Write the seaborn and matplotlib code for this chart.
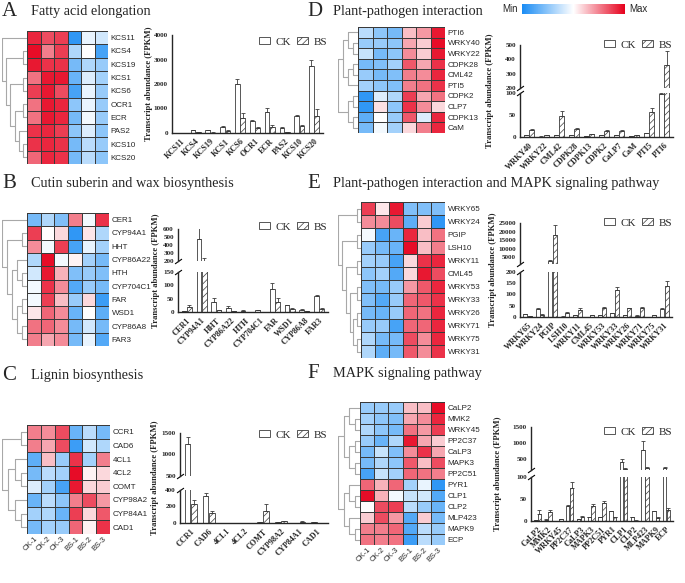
import numpy as np
import pandas as pd
import matplotlib
matplotlib.use('Agg')
import matplotlib.pyplot as plt
import seaborn as sns
from matplotlib.colors import LinearSegmentedColormap, Normalize
from matplotlib.cm import ScalarMappable
from matplotlib.patches import Patch

sns.set_style('white')
plt.rcParams['font.family'] = ['Liberation Serif', 'DejaVu Serif']
plt.rcParams['hatch.linewidth'] = 0.5
plt.rcParams['hatch.color'] = '#3c3c3c'

samples = ['CK-1', 'CK-2', 'CK-3', 'BS-1', 'BS-2', 'BS-3']

# ---------------- heatmap data (scaled expression, -1 = min, 1 = max)
genes_a = ['KCS11', 'KCS4', 'KCS19', 'KCS1', 'KCS6', 'OCR1', 'ECR', 'PAS2', 'KCS10', 'KCS20']
heat_a = [[0.85, 0.7, 0.75, -0.9, -0.1, -0.2],
          [0.95, 0.5, 0.75, -0.35, 0.0, -0.8],
          [0.9, 0.8, 0.8, -0.6, -0.35, -0.45],
          [0.55, 0.9, 0.9, -0.65, -0.15, -0.4],
          [0.75, 0.9, 0.7, -0.8, -0.1, -0.45],
          [0.55, 0.9, 0.85, -0.5, -0.1, -0.45],
          [0.55, 0.9, 0.85, -0.6, -0.05, -0.45],
          [0.8, 0.85, 0.75, -0.5, -0.15, -0.5],
          [0.8, 0.85, 0.8, -0.6, -0.3, -0.45],
          [0.6, 0.85, 0.8, -0.6, -0.3, -0.5]]
tree_a = (0, ((1, 2), ((3, 4), ((5, 6), (7, (8, 9))))))

genes_b = ['CER1', 'CYP94A1', 'HHT', 'CYP86A22', 'HTH', 'CYP704C1', 'FAR', 'WSD1', 'CYP86A8', 'FAR3']
heat_b = [[-0.6, -0.35, -0.55, 0.5, -0.05, 0.8],
          [0.75, 0.0, 0.15, -0.9, 0.1, -0.35],
          [0.45, -0.05, 0.75, -0.8, -0.1, -0.4],
          [-0.35, 0.95, -0.05, 0.05, -0.4, -0.6],
          [-0.2, 0.9, 0.3, -0.55, -0.45, -0.55],
          [-0.05, 0.8, 0.45, -0.75, -0.45, -0.6],
          [-0.05, 0.75, 0.25, -0.45, 0.15, -0.85],
          [0.1, 0.6, 0.45, -0.65, 0.0, -0.7],
          [0.55, 0.6, 0.45, -0.6, -0.2, -0.6],
          [0.5, 0.35, 0.45, -0.6, -0.1, -0.75]]
tree_b = (0, ((1, 2), ((3, (4, 5)), ((6, 7), (8, 9)))))

genes_c = ['CCR1', 'CAD6', '4CL1', '4CL2', 'COMT', 'CYP98A2', 'CYP84A1', 'CAD1']
heat_c = [[0.5, 0.45, 0.7, -0.65, -0.3, -0.6],
          [0.5, 0.35, 0.7, -0.85, -0.2, -0.35],
          [-0.7, 0.25, -0.45, 0.8, -0.4, 0.5],
          [-0.6, -0.3, -0.4, 0.95, 0.05, 0.15],
          [-0.15, -0.4, -0.8, 0.9, 0.15, 0.2],
          [-0.65, -0.3, -0.5, 0.5, 0.7, 0.4],
          [-0.4, -0.35, -0.65, 0.75, 0.15, 0.65],
          [-0.6, -0.4, -0.45, 0.6, 0.05, 0.8]]
tree_c = ((0, 1), ((2, (3, 4)), (5, (6, 7))))

genes_d = ['PTI6', 'WRKY40', 'WRKY22', 'CDPK28', 'CML42', 'PTI5', 'CDPK2', 'CLP7', 'CDPK13', 'CaM']
heat_d = [[-0.3, -0.5, -0.6, 0.25, 0.4, 0.9],
          [-0.45, -0.45, -0.5, 0.35, 0.2, 0.95],
          [-0.25, -0.6, -0.5, 0.45, 0.2, 0.9],
          [-0.6, -0.55, -0.4, 0.65, 0.35, 0.8],
          [-0.45, -0.6, -0.55, 0.5, 0.45, 0.85],
          [-0.4, -0.5, -0.55, 0.5, 0.55, 0.8],
          [-0.9, -0.15, -0.35, 0.75, 0.35, 0.55],
          [-0.9, 0.12, -0.5, 0.8, 0.45, 0.15],
          [-0.7, 0.0, -0.45, 0.65, -0.15, 0.85],
          [-0.6, -0.05, -0.4, 0.15, 0.5, 0.85]]
tree_d = (((0, (1, 2)), ((3, 4), 5)), ((6, 7), (8, 9)))

genes_e = ['WRKY65', 'WRKY24', 'PGIP', 'LSH10', 'WRKY11', 'CML45', 'WRKY53', 'WRKY33',
           'WRKY26', 'WRKY71', 'WRKY75', 'WRKY31']
heat_e = [[0.75, 0.1, 0.9, -0.55, -0.55, -0.55],
          [0.45, 0.45, 0.7, -0.7, 0.2, -0.9],
          [-0.05, -0.8, -0.65, 0.85, 0.25, 0.55],
          [-0.45, -0.6, -0.65, 0.95, 0.25, 0.5],
          [-0.4, -0.45, -0.8, 0.15, 0.8, 0.85],
          [-0.5, -0.4, -0.75, 0.15, 0.9, 0.7],
          [-0.55, -0.6, -0.45, 0.4, 0.65, 0.85],
          [-0.55, -0.75, -0.45, 0.6, 0.65, 0.8],
          [-0.6, -0.65, -0.45, 0.6, 0.55, 0.85],
          [-0.45, -0.45, -0.8, 0.6, 0.6, 0.85],
          [-0.35, -0.6, -0.6, 0.7, 0.45, 0.85],
          [-0.35, -0.7, -0.6, 0.65, 0.45, 0.8]]
tree_e = ((0, 1), ((2, 3), ((4, 5), ((6, 7), ((8, 9), (10, 11))))))

genes_f = ['CaLP2', 'MMK2', 'WRKY45', 'PP2C37', 'CaLP3', 'MAPK3', 'PP2C51', 'PYR1', 'CLP1',
           'CLP2', 'MLP423', 'MAPK9', 'ECP']
heat_f = [[-0.45, -0.45, -0.45, 0.25, 0.25, 0.95],
          [-0.4, -0.5, -0.55, 0.35, 0.45, 0.85],
          [-0.35, -0.5, -0.6, 0.55, 0.4, 0.75],
          [-0.45, -0.65, -0.35, 0.9, 0.35, 0.2],
          [-0.6, -0.25, -0.55, 0.45, 0.8, 0.35],
          [-0.6, -0.35, -0.5, 0.65, 0.25, 0.7],
          [-0.8, -0.25, -0.4, 0.6, 0.55, 0.5],
          [0.6, 0.3, 0.6, -0.4, -0.1, -0.9],
          [0.95, 0.3, -0.05, -0.25, -0.2, -0.75],
          [0.0, 0.7, 0.75, -0.3, -0.45, -0.65],
          [0.2, 0.7, 0.4, -0.75, 0.2, -0.6],
          [0.5, 0.5, 0.6, -0.75, -0.3, -0.45],
          [0.55, 0.5, 0.55, -0.85, -0.3, -0.45]]
tree_f = (((0, (1, 2)), ((3, 4), (5, 6))), ((7, (8, 9)), (10, (11, 12))))

# ---------------- bar data (FPKM mean, error)
bar_a = ['KCS11', 'KCS4', 'KCS19', 'KCS1', 'KCS6', 'OCR1', 'ECR', 'PAS2', 'KCS10', 'KCS20']
ck_a = [10, 120, 110, 260, 2000, 480, 850, 220, 700, 2750]
ck_a_err = [3, 20, 15, 30, 200, 60, 170, 20, 40, 220]
bs_a = [5, 30, 20, 100, 600, 200, 230, 50, 300, 700]
bs_a_err = [2, 8, 5, 15, 220, 40, 100, 10, 40, 300]

bar_b = ['CER1', 'CYP94A1', 'HHT', 'CYP86A22', 'HTH', 'CYP704C1', 'FAR', 'WSD1', 'CYP86A8', 'FAR3']
ck_b = [2, 470, 38, 15, 5, 6, 85, 26, 9, 60]
ck_b_err = [1, 170, 15, 8, 1, 1, 25, 2, 1, 2]
bs_b = [20, 180, 6, 3, 1, 1, 38, 12, 2, 12]
bs_b_err = [8, 60, 2, 1, 0.5, 0.5, 13, 4, 1, 4]

bar_c = ['CCR1', 'CAD6', '4CL1', '4CL2', 'COMT', 'CYP98A2', 'CYP84A1', 'CAD1']
ck_c = [1250, 330, 1, 2, 8, 8, 3, 10]
ck_c_err = [150, 35, 0.5, 1, 2, 2, 1, 2]
bs_c = [230, 120, 1, 3, 145, 20, 18, 5]
bs_c_err = [50, 30, 0.5, 1, 90, 4, 3, 1]

bar_d = ['WRKY40', 'WRKY22', 'CML42', 'CDPK28', 'CDPK13', 'CDPK2', 'CaLP7', 'CaM', 'PTI5', 'PTI6']
ck_d = [4, 1, 4, 4, 2, 5, 5, 2, 9, 97]
ck_d_err = [0.5, 0.2, 0.5, 0.5, 0.3, 0.5, 0.5, 0.3, 1, 3]
bs_d = [15, 4, 48, 19, 6, 14, 14, 5, 57, 360]
bs_d_err = [4, 0.5, 12, 2, 1, 1, 2, 0.5, 10, 100]

bar_e = ['WRKY65', 'WRKY24', 'PGIP', 'LSH10', 'WRKY11', 'CML45', 'WRKY53', 'WRKY33',
         'WRKY26', 'WRKY71', 'WRKY75', 'WRKY31']
ck_e = [12, 37, 3000, 2, 10, 1, 7, 18, 8, 6, 1, 37]
ck_e_err = [1, 3, 500, 0.5, 1, 0.2, 1, 1, 1, 1, 0.2, 3]
bs_e = [3, 10, 18000, 18, 33, 7, 42, 122, 38, 40, 10, 140]
bs_e_err = [0.5, 3, 6000, 3, 5, 1, 4, 10, 2, 4, 1, 20]

bar_f = ['CaLP2', 'MMK2', 'WRKY45', 'PP2C37', 'CaLP3', 'MAPK3', 'PP2C51', 'PYR1', 'CLP1',
         'CLP2', 'MLP423', 'MAPK9', 'ECP']
ck_f = [2, 3, 0.5, 34, 4, 8, 9, 22, 400, 9, 770, 22, 200]
ck_f_err = [0.5, 0.5, 0.2, 2, 0.5, 1, 1, 1, 100, 1, 300, 1, 30]
bs_f = [16, 21, 5, 75, 9, 35, 42, 8, 180, 1, 200, 7, 24]
bs_f_err = [8, 5, 0.5, 13, 2, 4, 3, 1, 20, 0.2, 30, 1, 6]

W, H = 685, 583
fig = plt.figure(figsize=(W / 100, H / 100), dpi=100)
cmap = LinearSegmentedColormap.from_list('bwr2', ['#1a8cf4', '#ffffff', '#e6001c'])
edge = '#3c3c3c'


def px(x0, y0, x1, y1):
    return fig.add_axes([x0 / W, 1 - y1 / H, (x1 - x0) / W, (y1 - y0) / H])


def draw_dendro(ax, tree, n):
    def rec(node):
        if isinstance(node, int):
            return node + 0.5, 0
        ys, hs = zip(*[rec(c) for c in node])
        h = max(hs) + 1
        for y, hc in zip(ys, hs):
            ax.plot([hc, h], [y, y], color='#a8a8a8', lw=0.8)
        ax.plot([h, h], [min(ys), max(ys)], color='#a8a8a8', lw=0.8)
        return (min(ys) + max(ys)) / 2, h
    _, root_h = rec(tree)
    ax.set_ylim(n, 0)
    ax.set_xlim(root_h + 0.05, 0)
    ax.axis('off')


def heat_panel(box, dbox, genes, values, tree, col_labels=False):
    ax = px(*box)
    df = pd.DataFrame(values, index=genes, columns=samples)
    sns.heatmap(df, ax=ax, cmap=cmap, vmin=-1, vmax=1, cbar=False, linewidths=0.7,
                linecolor='#3a3a3a', xticklabels=col_labels, yticklabels=True)
    ax.yaxis.tick_right()
    ax.tick_params(axis='y', length=0, pad=2, labelsize=5.8)
    plt.setp(ax.get_yticklabels(), rotation=0, fontfamily='Liberation Sans')
    if col_labels:
        ax.tick_params(axis='x', length=0, pad=1, labelsize=5.5)
        plt.setp(ax.get_xticklabels(), rotation=45, ha='right', rotation_mode='anchor',
                 fontfamily='Liberation Sans')
    else:
        ax.set_xticks([])
    ax.set_xlabel('')
    ax.set_ylabel('')
    draw_dendro(px(*dbox), tree, len(genes))


def bar_panel(x0, x1, parts, cats, ck, ck_err, bs, bs_err, ylab_x, leg_xy):
    n = len(cats)
    df = pd.DataFrame({'gene': cats * 2, 'group': ['CK'] * n + ['BS'] * n, 'fpkm': ck + bs})
    err = np.array(ck_err + bs_err)
    for i, (yt, yb, lo, hi, ticks) in enumerate(parts):
        ax = px(x0, yt, x1, yb)
        sns.barplot(data=df, x='gene', y='fpkm', hue='group', hue_order=['CK', 'BS'],
                    palette={'CK': 'white', 'BS': 'white'}, edgecolor=edge, linewidth=0.6,
                    width=0.72, gap=0.12, errorbar=None, legend=False, ax=ax)
        bars = ax.patches
        for p in bars[n:]:
            p.set_hatch('/////')
        xs = [p.get_x() + p.get_width() / 2 for p in bars]
        ax.errorbar(xs, df['fpkm'], yerr=[np.zeros(2 * n), err], fmt='none', ecolor=edge,
                    elinewidth=0.6, capsize=1.5, capthick=0.6)
        ax.set_ylim(lo, hi)
        ax.set_yticks(ticks)
        ax.set_xlim(-0.6, n - 0.4)
        ax.set_xlabel('')
        ax.set_ylabel('')
        for s in ['top', 'right']:
            ax.spines[s].set_visible(False)
        ax.spines['left'].set_linewidth(1.0)
        ax.spines['bottom'].set_linewidth(1.0)
        ax.tick_params(axis='y', length=2.2, width=0.9, pad=0.8, labelsize=5.1)
        plt.setp(ax.get_yticklabels(), fontweight='bold')
        if i == len(parts) - 1:
            ax.tick_params(axis='x', length=2.2, width=0.9, pad=1, labelsize=5.9)
            plt.setp(ax.get_xticklabels(), rotation=45, ha='right', rotation_mode='anchor',
                     fontweight='bold')
        else:
            ax.spines['bottom'].set_visible(False)
            ax.set_xticks([])
            ax.plot([0], [0], transform=ax.transAxes, marker=[(-1, -0.7), (1, 0.7)],
                    markersize=5, mec='k', mew=0.8, ls='none', clip_on=False)
        if i > 0:
            ax.plot([0], [1], transform=ax.transAxes, marker=[(-1, -0.7), (1, 0.7)],
                    markersize=5, mec='k', mew=0.8, ls='none', clip_on=False)
    ymid = (parts[0][0] + parts[-1][1]) / 2
    fig.text(ylab_x / W, 1 - ymid / H, 'Transcript abundance (FPKM)', rotation=90,
             ha='center', va='center', fontsize=6.2, fontweight='bold')
    handles = [Patch(facecolor='white', edgecolor=edge, lw=0.6, label='CK'),
               Patch(facecolor='white', edgecolor=edge, lw=0.6, hatch='/////', label='BS')]
    fig.legend(handles=handles, loc='center', bbox_to_anchor=(leg_xy[0] / W, 1 - leg_xy[1] / H),
               ncol=2, frameon=False, fontsize=8, handlelength=1.0, handleheight=0.6,
               columnspacing=0.6, handletextpad=0.45, borderpad=0.1)


def title(x, y, letter, text, gap):
    fig.text(x / W, 1 - y / H, letter, fontsize=15, va='center', ha='left')
    fig.text((x + gap) / W, 1 - y / H, text, fontsize=10.3, va='center', ha='left')


# ---------------- left column
title(2, 12, 'A', 'Fatty acid elongation', 29)
heat_panel((27, 31, 108, 164), (2, 31, 27, 164), genes_a, heat_a, tree_a)
bar_panel(172, 323, [(35, 133, 0, 4000, [0, 1000, 2000, 3000, 4000])],
          bar_a, ck_a, ck_a_err, bs_a, bs_a_err, 149, (293, 42))

title(2, 184, 'B', 'Cutin suberin and wax biosynthesis', 29)
heat_panel((27, 213, 109, 346), (2, 213, 27, 346), genes_b, heat_b, tree_b)
bar_panel(178, 328, [(229, 261, 200, 600, [200, 300, 400, 500, 600]),
                     (272, 312, 0, 150, [0, 50, 100, 150])],
          bar_b, ck_b, ck_b_err, bs_b, bs_b_err, 156, (293, 227))

title(2, 375, 'C', 'Lignin biosynthesis', 29)
heat_panel((27, 425, 110, 534), (2, 425, 27, 534), genes_c, heat_c, tree_c, col_labels=True)
bar_panel(180, 328, [(433, 476, 500, 1500, [500, 1000, 1500]),
                     (490, 523, 0, 400, [0, 200, 400])],
          bar_c, ck_c, ck_c_err, bs_c, bs_c_err, 155, (293, 435))

# ---------------- right column
title(307, 11, 'D', 'Plant-pathogen interaction', 26)
heat_panel((358, 27, 445, 133), (338, 27, 358, 133), genes_d, heat_d, tree_d)
bar_panel(520, 673, [(45, 88, 200, 500, [200, 300, 400, 500]),
                     (93, 137, 0, 100, [0, 50, 100])],
          bar_d, ck_d, ck_d_err, bs_d, bs_d_err, 490, (638, 45))

title(307, 183, 'E', 'Plant-pathogen interaction and MAPK signaling pathway', 26)
heat_panel((361, 202, 445, 358), (338, 202, 361, 358), genes_e, heat_e, tree_e)
bar_panel(520, 672, [(223, 264, 1000, 25000, [5000, 10000, 15000, 20000, 25000]),
                     (272, 317, 0, 200, [0, 50, 100, 150, 200])],
          bar_e, ck_e, ck_e_err, bs_e, bs_e_err, 493, (638, 223))

title(307, 374, 'F', 'MAPK signaling pathway', 26)
heat_panel((360, 402, 445, 545), (338, 402, 360, 545), genes_f, heat_f, tree_f, col_labels=True)
bar_panel(531, 673, [(427, 470, 150, 1500, [500, 1000, 1500]),
                     (477, 521, 0, 100, [0, 50, 100])],
          bar_f, ck_f, ck_f_err, bs_f, bs_f_err, 498, (638, 432))

# ---------------- colour key
cax = px(522, 4, 625, 14)
cb = fig.colorbar(ScalarMappable(norm=Normalize(-1, 1), cmap=cmap), cax=cax, orientation='horizontal')
cb.set_ticks([])
cb.outline.set_visible(False)
fig.text(518 / W, 1 - 9 / H, 'Min', ha='right', va='center', fontsize=7, fontfamily='Liberation Sans')
fig.text(629 / W, 1 - 9 / H, 'Max', ha='left', va='center', fontsize=7, fontfamily='Liberation Sans')

fig.savefig('out.png', dpi=100)
